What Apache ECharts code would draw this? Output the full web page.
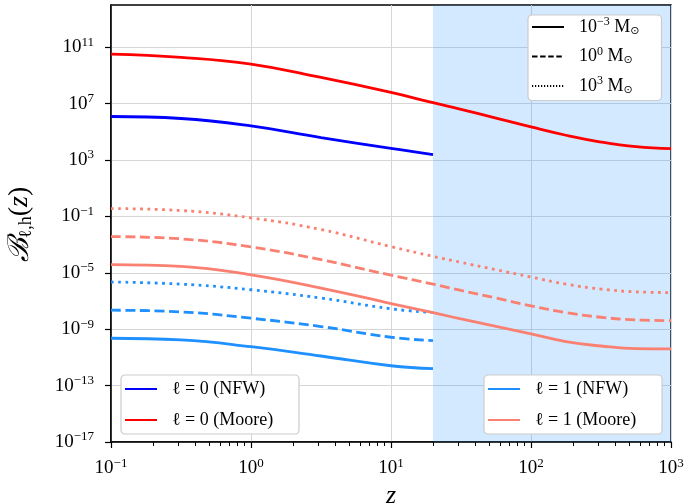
<!DOCTYPE html>
<html><head><meta charset="utf-8">
<script src="https://cdn.jsdelivr.net/npm/echarts@6/dist/echarts.min.js"></script>
<style>html,body{margin:0;padding:0;background:#fff}#c{width:686px;height:503px}</style>
</head><body><div id="c"></div>
<script>
// x positions: log10(z)
const log10z = [-1, -0.5, 0, 0.5, 1, 1.3, 1.5, 1.75, 2, 2.25, 2.5, 2.75, 3];
// y values: log10(B_{l,h}(z))
const l0Moore   = [10.52, 10.29, 9.81, 8.86, 7.80, 7.07, 6.60, 5.98, 5.35, 4.76, 4.28, 3.95, 3.81];
const l0NFW     = [6.09, 5.95, 5.42, 4.59, 3.83, 3.38];
const l1MooreM3 = [-4.42, -4.54, -5.14, -6.08, -7.18, -7.82, -8.27, -8.80, -9.33, -9.88, -10.19, -10.38, -10.40];
const l1MooreM0 = [-2.43, -2.59, -3.16, -4.07, -5.17, -5.80, -6.25, -6.79, -7.34, -7.82, -8.15, -8.34, -8.39];
const l1MooreP3 = [-0.44, -0.58, -1.10, -1.93, -3.14, -3.83, -4.26, -4.78, -5.30, -5.80, -6.15, -6.35, -6.40];
const l1NFWM3   = [-9.64, -9.76, -10.24, -10.90, -11.59, -11.80];
const l1NFWM0   = [-7.65, -7.77, -8.22, -8.81, -9.57, -9.81];
const l1NFWP3   = [-5.65, -5.80, -6.20, -6.79, -7.55, -7.82];
const shadeStart = 1.3; // log10(20)
const xTickExps = [-1, 0, 1, 2, 3];
const yTickExps = [-17, -13, -9, -5, -1, 3, 7, 11];
const massLabels = ['−3', '0', '3'];

const F = '"Liberation Serif", "DejaVu Serif", serif';
const minorX = [];
for (let n = -1; n < 3; n++) for (let k = 2; k <= 9; k++) minorX.push(n + Math.log10(k));

function pts(v) { return v.map((y, i) => [log10z[i], y]); }
function pw(e) { return '{b|10}{s|' + String(e).replace('-', '−') + '}'; }
const richTick = {
  b: { fontFamily: F, fontSize: 19, color: '#000' },
  s: { fontFamily: F, fontSize: 13, color: '#000', padding: [0, 0, 10, 0] }
};
const LW = 2.8;
const DASH = [10, 4.5];
const DOT = [2.8, 4.5];
function line(name, data, color, type) {
  return {
    name: name, type: 'line', data: pts(data), symbol: 'none', smooth: 0.45,
    color: color, z: 3,
    lineStyle: { color: color, width: LW, type: type, cap: 'butt' },
    emphasis: { disabled: true }, silent: true, animation: false
  };
}
const BLUE = '#0000ff', RED = '#ff0000', DBLUE = '#1e90ff', SALMON = '#fa8072';
const series = [
  {
    name: 'shade', type: 'line', data: [], z: 1, silent: true, animation: false,
    markArea: { silent: true, itemStyle: { color: 'rgba(30,144,255,0.2)' },
      data: [[{ xAxis: shadeStart }, { xAxis: 3 }]] }
  },
  line('ℓ = 0 (NFW)', l0NFW, BLUE, 'solid'),
  line('ℓ = 0 (Moore)', l0Moore, RED, 'solid'),
  line('ℓ = 1 (NFW)', l1NFWM3, DBLUE, 'solid'),
  line('ℓ = 1 (NFW) d', l1NFWM0, DBLUE, DASH),
  line('ℓ = 1 (NFW) o', l1NFWP3, DBLUE, DOT),
  line('ℓ = 1 (Moore)', l1MooreM3, SALMON, 'solid'),
  line('ℓ = 1 (Moore) d', l1MooreM0, SALMON, DASH),
  line('ℓ = 1 (Moore) o', l1MooreP3, SALMON, DOT),
  { name: 'M0', type: 'line', data: [], symbol: 'none', color: '#000', lineStyle: { color: '#000', width: 1.5, type: 'solid' } },
  { name: 'M1', type: 'line', data: [], symbol: 'none', color: '#000', lineStyle: { color: '#000', width: 1.5, type: [5.5, 2.6], cap: 'butt' } },
  { name: 'M2', type: 'line', data: [], symbol: 'none', color: '#000', lineStyle: { color: '#000', width: 1.2, type: [1.2, 1.8], cap: 'butt' } }
];
const hideSym = { color: 'transparent', borderColor: 'transparent', borderWidth: 0, opacity: 0 };
const legendBase = {
  orient: 'vertical', backgroundColor: '#fff', borderColor: '#cccccc', borderWidth: 1.2,
  borderRadius: 4, itemWidth: 32, itemHeight: 20, selectedMode: false,
  itemStyle: hideSym,
  lineStyle: { width: 2 },
  textStyle: { fontFamily: F, fontSize: 18, color: '#000', lineHeight: 20, width: 122, padding: [0, 0, 0, 10] }
};
const option = {
  backgroundColor: '#fff',
  animation: false,
  grid: { left: 111, right: 15, top: 5, bottom: 61, outerBoundsMode: 'none', containLabel: false,
    show: true, borderColor: '#000', borderWidth: 1.5, backgroundColor: 'transparent' },
  xAxis: [{
    type: 'value', min: -1, max: 3, interval: 1,
    axisLine: { show: true, onZero: false, lineStyle: { color: '#000', width: 1.5 } },
    axisTick: { show: true, length: 6, lineStyle: { color: '#000', width: 1.2 } },
    axisLabel: { margin: 15, formatter: v => pw(v), rich: richTick, customValues: xTickExps },
    splitLine: { show: true, lineStyle: { color: '#d6d6d6', width: 1 } },
    name: 'z', nameLocation: 'middle', nameGap: 26,
    nameTextStyle: { fontFamily: F, fontSize: 26, fontStyle: 'italic', color: '#000' }
  }, {
    type: 'value', min: -1, max: 3, position: 'bottom', gridIndex: 0,
    axisLine: { show: false, onZero: false }, axisLabel: { show: false }, splitLine: { show: false },
    axisTick: { show: true, length: 4, customValues: minorX, lineStyle: { color: '#000', width: 1 } }
  }],
  yAxis: {
    type: 'value', min: -17, max: 14, interval: 4,
    axisLine: { show: true, onZero: false, lineStyle: { color: '#000', width: 1.5 } },
    axisTick: { show: true, length: 6, customValues: yTickExps, lineStyle: { color: '#000', width: 1.2 } },
    axisLabel: { margin: 17, formatter: v => pw(v), rich: richTick, customValues: yTickExps },
    splitLine: { show: true, lineStyle: { color: '#d6d6d6', width: 1 } },
    name: '{c|ℬ}{sb|ℓ,h}{n|(}{i|z}{n|)}', nameLocation: 'middle', nameGap: 76, nameRotate: 90,
    nameTextStyle: {
      color: '#000', padding: [0, 2, 0, 0],
      rich: {
        c: { fontFamily: '"DejaVu Serif", serif', fontSize: 29, fontStyle: 'italic', color: '#000' },
        sb: { fontFamily: F, fontSize: 18, color: '#000', padding: [12, 0, 0, 0] },
        n: { fontFamily: F, fontSize: 28, color: '#000' },
        i: { fontFamily: F, fontSize: 28, fontStyle: 'italic', color: '#000' }
      }
    }
  },
  legend: [
    Object.assign({}, legendBase, {
      left: 121, top: 375, padding: [4, 5, 4, 3], itemGap: 11,
      data: ['ℓ = 0 (NFW)', 'ℓ = 0 (Moore)']
    }),
    Object.assign({}, legendBase, {
      left: 484, top: 375, padding: [4, 5, 4, 3], itemGap: 11,
      data: ['ℓ = 1 (NFW)', 'ℓ = 1 (Moore)']
    }),
    Object.assign({}, legendBase, {
      left: 528, top: 15, padding: [1, 22, 5, 3], itemGap: 9, itemHeight: 20,
      data: ['M0', 'M1', 'M2'],
      lineStyle: {},
      formatter: n => '{n|10}{s|' + massLabels[+n.slice(1)] + '}{n| M}{u|⊙}',
      textStyle: {
        fontFamily: F, fontSize: 18, color: '#000', padding: [0, 0, 0, 10],
        rich: {
          n: { fontFamily: F, fontSize: 18, color: '#000' },
          s: { fontFamily: F, fontSize: 12, color: '#000', padding: [0, 0, 10, 0] },
          u: { fontFamily: '"DejaVu Sans", sans-serif', fontSize: 11, color: '#000', padding: [8, 0, 0, 0] }
        }
      }
    })
  ],
  series: series
};
const chart = echarts.init(document.getElementById('c'), null, { renderer: 'canvas' });
chart.setOption(option);
</script></body></html>
